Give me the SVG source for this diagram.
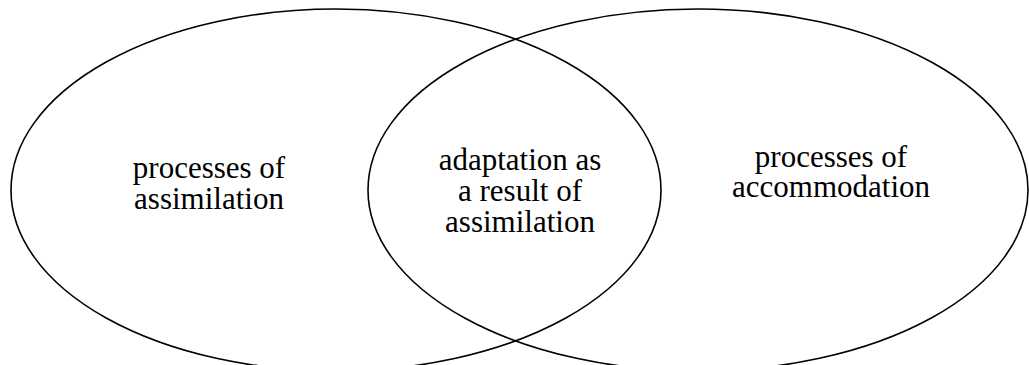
<svg xmlns="http://www.w3.org/2000/svg" width="1029" height="365" viewBox="0 0 1029 365">
<style>
.e{fill:none;stroke:#000;stroke-width:1.6}
.t{font-family:"Liberation Serif","Times New Roman",serif;font-size:31px;fill:#000;text-anchor:middle}
</style>
<rect width="1029" height="365" fill="#fff"/>
<g id="assimilation">
<ellipse class="e" cx="336" cy="190" rx="325" ry="181"/>
<text class="t" x="209" y="178">processes of</text>
<text class="t" x="209" y="209">assimilation</text>
</g>
<g id="accommodation">
<ellipse class="e" cx="698" cy="190" rx="330" ry="181"/>
<text class="t" x="831" y="167">processes of</text>
<text class="t" x="831" y="197">accommodation</text>
</g>
<g id="adaptation">
<text class="t" x="520" y="170">adaptation as</text>
<text class="t" x="520" y="201">a result of</text>
<text class="t" x="520" y="232">assimilation</text>
</g>
<g id="connectors"/>
</svg>
